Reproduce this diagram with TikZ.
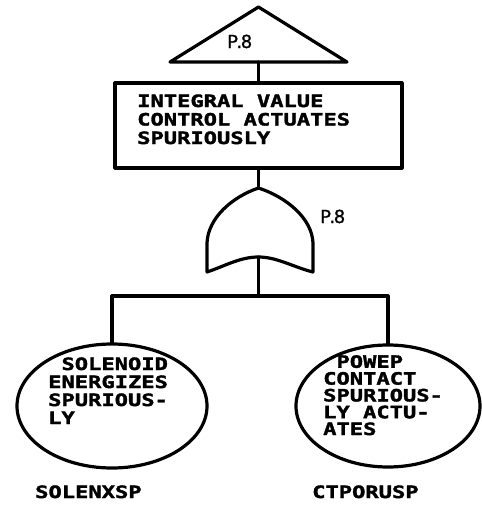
\documentclass[tikz,border=0pt]{standalone}
\usepackage{fontspec}
\usetikzlibrary{shapes.geometric}
% plotter-style lettering: wide monospaced capitals
\newfontfamily\plotfont{DejaVu Sans Mono}[FakeStretch=1.3, BoldFeatures={FakeBold=2}]
\newfontfamily\tagfont{DejaVu Sans}[FakeBold=1]
\newcommand\ptag{P\kern-1.5pt.\kern-1.5pt8}
\begin{document}
\begin{tikzpicture}[x=1pt,y=-1pt,
  ln/.style={line width=3.2pt, line join=round, line cap=round},
  eventbox/.style={draw, ln, rectangle, inner sep=0pt, minimum width=287pt, minimum height=85pt},
  basic/.style={draw, ln, ellipse, inner sep=0pt},
  % multi-line blocks are placed by the baseline of their last line
  caps/.style={inner sep=0pt, anchor=base west, align=left,
    font=\plotfont\bfseries\fontsize{17}{#1}\selectfont},
  caps/.default=18,
  tag/.style={inner sep=0pt, anchor=base west, font=\tagfont\fontsize{18}{20}\selectfont}
]
\useasboundingbox (0,0) rectangle (482,507);

% transfer triangle
\coordinate (apex) at (258.5,7);
\coordinate (transfer) at (258.5,62);
\draw[ln] (apex) -- (347,62) -- (170,62) -- cycle;
\node[tag] (transfer-tag) at (227,48) {\ptag};

% top event
\node[eventbox] (top) at (258.5,125.5) {};
\node[caps=18.5] (top-text) at (137,144) {INTEGRAL VALUE\\CONTROL ACTUATES\\SPURIOUSLY};

% OR gate
\coordinate (or-in) at (258.5,188);
\coordinate (or-out) at (258.5,257);
\draw[ln] (or-in) .. controls (232,197) and (208,218) .. (207,243) -- (207,272)
  .. controls (225,266) and (240,257) .. (or-out)
  .. controls (277,257) and (293,267) .. (313,272) -- (313,243)
  .. controls (312,218) and (286,197) .. (or-in) -- cycle;
\node[tag] (gate-tag) at (320,223) {\ptag};

% basic events
\node[basic, minimum width=190pt, minimum height=124pt] (solenoid) at (112,406) {};
\node[basic, minimum width=184pt, minimum height=122pt] (contact) at (388,406) {};
\node[caps=18] (solenoid-text) at (48,424) {\phantom{X}SOLENOID\\ENERGIZES\\SPURIOUS-\\LY};
\node[caps=16.8] (contact-text) at (323,435) {\phantom{X}POWEP\\CONTACT\\SPURIOUS-\\LY ACTU-\\ATES};
\node[caps] (solenoid-id) at (35,498) {SOLENXSP};
\node[caps] (contact-id) at (312,498) {CTPORUSP};

% connectors
\coordinate (bus) at (258.5,296);
\draw[ln] (transfer) -- (top.north);
\draw[ln] (top.south) -- (or-in);
\draw[ln] (or-out) -- (bus);
\draw[ln] (solenoid.north) |- (bus) -| (contact.north);
\end{tikzpicture}
\end{document}
